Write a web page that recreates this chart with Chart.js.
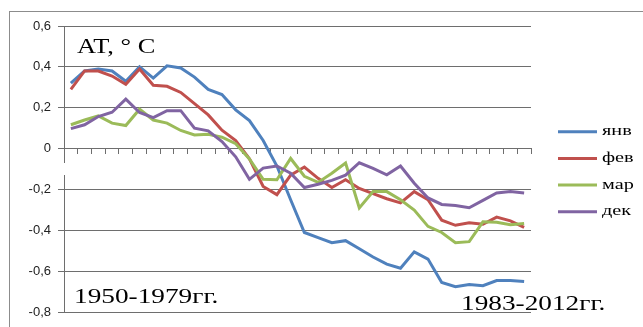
<!DOCTYPE html>
<html>
<head>
<meta charset="utf-8">
<script src="https://cdn.jsdelivr.net/npm/chart.js@4/dist/chart.umd.min.js"></script>
<style>
  body { margin: 0; background: #fff; overflow: hidden; }
  #frame { position: absolute; left: 9px; top: 11px; width: 700px; height: 400px; border: 1px solid #8c8c8c; }
  #c { position: absolute; left: 0; top: 0; }
</style>
</head>
<body>
<div id="frame"></div>
<canvas id="c" width="643" height="327"></canvas>
<script>
// 34 точки (скользящие средние), подписей по оси X нет
const categories = Array.from({ length: 34 }, (_, i) => String(i + 1));

const jan = [0.32, 0.38, 0.39, 0.38, 0.33, 0.40, 0.345, 0.405, 0.395, 0.35, 0.29, 0.265, 0.19, 0.137, 0.04, -0.085, -0.25, -0.41, -0.435, -0.46, -0.45, -0.49, -0.53, -0.565, -0.585, -0.505, -0.54, -0.655, -0.675, -0.665, -0.67, -0.645, -0.645, -0.65];
const feb = [0.29, 0.38, 0.38, 0.355, 0.315, 0.39, 0.31, 0.305, 0.275, 0.22, 0.165, 0.09, 0.04, -0.05, -0.185, -0.225, -0.13, -0.09, -0.145, -0.19, -0.152, -0.195, -0.22, -0.245, -0.265, -0.21, -0.25, -0.35, -0.375, -0.362, -0.37, -0.335, -0.353, -0.385];
const mar = [0.117, 0.14, 0.16, 0.125, 0.113, 0.193, 0.14, 0.125, 0.089, 0.067, 0.07, 0.056, 0.024, -0.05, -0.15, -0.152, -0.048, -0.135, -0.165, -0.12, -0.07, -0.29, -0.21, -0.21, -0.25, -0.30, -0.38, -0.41, -0.46, -0.455, -0.358, -0.36, -0.372, -0.366];
const dec = [0.098, 0.117, 0.157, 0.178, 0.242, 0.177, 0.152, 0.186, 0.186, 0.1, 0.087, 0.035, -0.04, -0.15, -0.095, -0.085, -0.12, -0.19, -0.174, -0.155, -0.13, -0.069, -0.096, -0.128, -0.085, -0.169, -0.241, -0.273, -0.278, -0.289, -0.253, -0.217, -0.21, -0.217];

const seriesNames = ["янв", "фев", "мар", "дек"];
const seriesColors = ["#4F81BD", "#C0504D", "#9BBB59", "#8064A2"];
const yTicks = [-0.8, -0.6, -0.4, -0.2, 0, 0.2, 0.4, 0.6];

const fmt = (v) => (Math.abs(v) < 1e-9 ? "0" : v.toFixed(1).replace(".", ","));

// подписи, легенда и разрыв оси
const extras = {
  id: "extras",
  afterDraw(chart) {
    const ctx = chart.ctx;
    ctx.save();

    // разрыв вертикальной оси
    ctx.fillStyle = "#fff";
    ctx.fillRect(61, 163, 6, 12);

    const stretched = (txt, x, yy, font, sx) => {
      ctx.save();
      ctx.font = font;
      ctx.fillStyle = "#000";
      ctx.textBaseline = "alphabetic";
      ctx.translate(x, yy);
      ctx.scale(sx, 1);
      ctx.fillText(txt, 0, 0);
      ctx.restore();
    };

    stretched("AT, ° C", 77, 53, "22px 'Liberation Serif'", 1.2);
    stretched("1950-1979гг.", 74, 303, "22px 'Liberation Serif'", 1.24);
    stretched("1983-2012гг.", 461, 310, "22px 'Liberation Serif'", 1.24);

    // легенда
    seriesNames.forEach((name, i) => {
      const ly = 131.7 + i * 26.7;
      ctx.strokeStyle = seriesColors[i];
      ctx.lineWidth = 3;
      ctx.beginPath();
      ctx.moveTo(558, ly);
      ctx.lineTo(597, ly);
      ctx.stroke();
      stretched(name, 602, ly + 3.5, "15px 'Liberation Serif'", 1.35);
    });
    ctx.restore();
  },
};

new Chart(document.getElementById("c"), {
  type: "line",
  data: {
    labels: categories,
    datasets: [jan, feb, mar, dec].map((d, i) => ({
      label: seriesNames[i],
      data: d,
      borderColor: seriesColors[i],
      backgroundColor: seriesColors[i],
      borderWidth: 3,
      pointRadius: 0,
      tension: 0,
      order: 3 - i,
    })),
  },
  options: {
    responsive: false,
    devicePixelRatio: 1,
    animation: false,
    layout: { padding: { top: 26, bottom: 9, left: 0, right: 112 } },
    plugins: { legend: { display: false }, tooltip: { enabled: false } },
    scales: {
      x: {
        type: "category",
        offset: true,
        position: { y: 0 },
        afterFit: (s) => { s.height = 0; },
        grid: { display: true, drawOnChartArea: false, offset: true, tickLength: 5, color: "#6e6e6e", lineWidth: 1 },
        border: { display: true, color: "#6e6e6e", width: 1 },
        ticks: { display: false },
      },
      y: {
        min: -0.8,
        max: 0.6,
        afterFit: (s) => { s.width = 64; },
        afterBuildTicks: (s) => { s.ticks = yTicks.map((v) => ({ value: v })); },
        grid: { color: "#6e6e6e", lineWidth: 1, tickLength: 6 },
        border: { color: "#6e6e6e", width: 1 },
        ticks: {
          padding: 7,
          color: "#222",
          font: { family: "'Liberation Sans'", size: 13 },
          callback: (v) => fmt(v),
        },
      },
    },
  },
  plugins: [extras],
});
</script>
</body>
</html>
